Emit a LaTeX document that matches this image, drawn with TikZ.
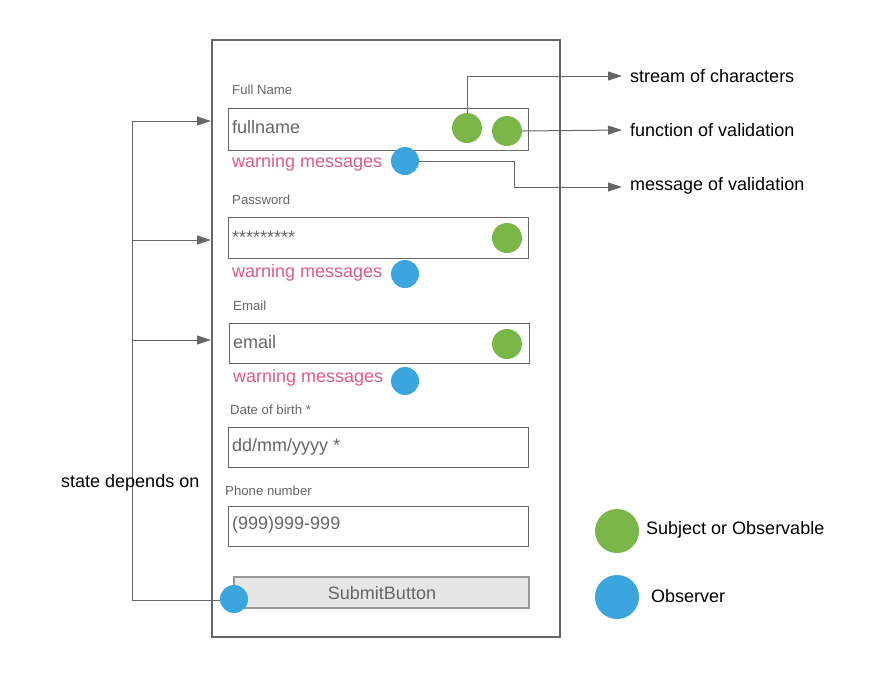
\documentclass[tikz,border=0pt]{standalone}
\usepackage{fontspec}
\setmainfont{Liberation Sans}
\usetikzlibrary{arrows.meta}
\definecolor{gframe}{HTML}{666666}
\definecolor{obsgreen}{HTML}{7AB648}
\definecolor{obsblue}{HTML}{3AA6DD}
\definecolor{warnpink}{HTML}{E2598B}
\definecolor{btnfill}{HTML}{E6E6E6}
\definecolor{btnline}{HTML}{999999}
\tikzset{
  field/.style={draw=gframe, line width=1pt},
  lbl/.style={anchor=west, inner sep=0pt, text=gframe, font=\fontsize{13.2}{15}\selectfont},
  val/.style={anchor=west, inner sep=0pt, text=gframe, font=\fontsize{18}{20}\selectfont},
  warn/.style={anchor=west, inner sep=0pt, text=warnpink, font=\fontsize{18}{20}\selectfont},
  note/.style={anchor=west, inner sep=0pt, text=black, font=\fontsize{18}{20}\selectfont},
  gdot/.style={circle, fill=obsgreen, inner sep=0pt, minimum size=30pt},
  bdot/.style={circle, fill=obsblue, inner sep=0pt, minimum size=28pt},
  conn/.style={draw=gframe, line width=1pt},
  arr/.style={conn, -{Triangle[length=14pt,width=9pt]}},
}
\begin{document}
\begin{tikzpicture}[x=1pt,y=-1pt]
\useasboundingbox (0,0) rectangle (869,678);
% frame
\draw[draw=gframe, line width=2pt] (212,40) rectangle (560,637);
% Full Name
\node[lbl] (lfull) at (232,90) {Full Name};
\draw[field] (228,108) rectangle (528,150);
\node[val] (vfull) at (232,127) {fullname};
\node[gdot] (g1a) at (467,128) {};
\node[gdot] (g1b) at (507,131) {};
\node[warn] (w1) at (232,163) {warning messages};
\node[bdot] (b1) at (405,161) {};
% Password
\node[lbl] (lpw) at (232,200) {Password};
\draw[field] (228,217) rectangle (528,258);
\node[val] (vpw) at (232,237) {*********};
\node[gdot] (g2) at (507,238) {};
\node[warn] (w2) at (232,273) {warning messages};
\node[bdot] (b2) at (405,274) {};
% Email
\node[lbl] (lem) at (233,306) {Email};
\draw[field] (229,323) rectangle (529,363);
\node[val] (vem) at (233,342) {email};
\node[gdot] (g3) at (507,344) {};
\node[warn] (w3) at (233,378) {warning messages};
\node[bdot] (b3) at (405,381) {};
% Date of birth
\node[lbl] (ldob) at (230,410) {Date of birth *};
\draw[field] (228,427) rectangle (528,467);
\node[val] (vdob) at (232,447) {dd/mm/yyyy *};
% Phone
\node[lbl] (lph) at (225,491) {Phone number};
\draw[field] (228,506) rectangle (528,546);
\node[val] (vph) at (232,525) {(999)999-999};
% Submit
\draw[draw=btnline, fill=btnfill, line width=2pt] (234,577) rectangle (529,608);
\node[inner sep=0pt, text=gframe, font=\fontsize{18}{20}\selectfont] (sub) at (382,593) {SubmitButton};
% left dependency lines
\coordinate (t1) at (211,121);
\coordinate (t2) at (211,240);
\coordinate (t3) at (211,340);
\coordinate (c1) at (132,121);
\coordinate (c2) at (132,240);
\coordinate (c3) at (132,340);
\coordinate (c4) at (132,600);
\draw[conn] (c1) -- (c4) -- (220,600);
\draw[arr] (c1) -- (t1);
\draw[arr] (c2) -- (t2);
\draw[arr] (c3) -- (t3);
\node[bdot] (bs) at (234,599) {};
\node[note] (dep) at (61,483) {state depends on};
% right annotations
\node[note] (n1) at (630,76) {stream of characters};
\node[note] (n2) at (630,130) {function of validation};
\node[note] (n3) at (630,186) {message of validation};
\draw[arr] (g1a.north) |- (622,76);
\draw[arr] (g1b.east) -- (622,130);
\draw[arr] (b1.east) -| (514,187) -- (622,187);
% legend
\node[gdot, minimum size=44pt] (lg) at (617,531) {};
\node[note] (lgt) at (646,530) {Subject or Observable};
\node[bdot, minimum size=44pt] (lb) at (617,597) {};
\node[note] (lbt) at (651,596) {Observer};
\end{tikzpicture}
\end{document}
